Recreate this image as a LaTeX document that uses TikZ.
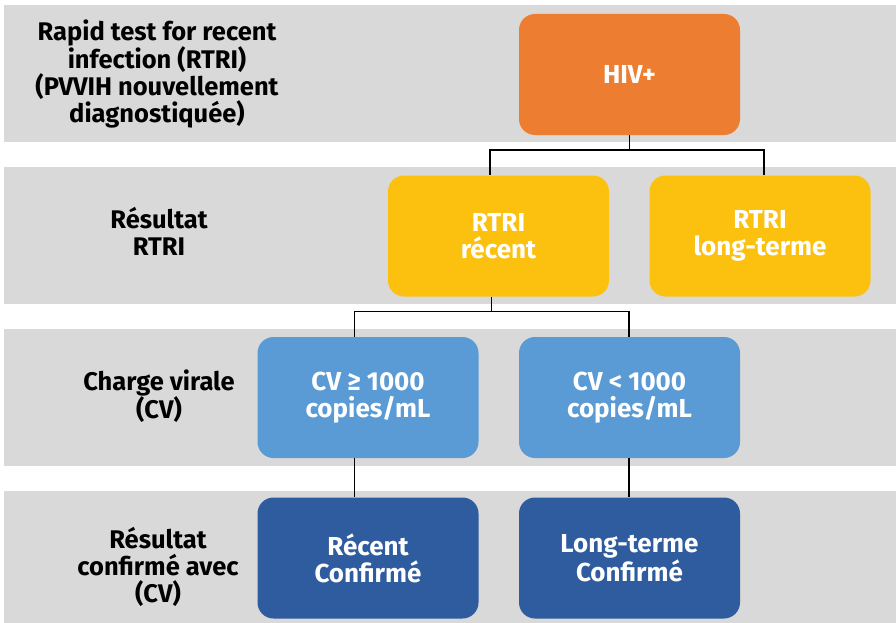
\documentclass[tikz,border=0pt]{standalone}
\usepackage{fontspec}
\setmainfont{Fira Sans}
\definecolor{bandgray}{HTML}{D9D9D9}
\definecolor{hivorange}{HTML}{ED7D31}
\definecolor{rtriyellow}{HTML}{FCC10F}
\definecolor{cvblue}{HTML}{5B9BD5}
\definecolor{confblue}{HTML}{2F5C9E}
\begin{document}
\begin{tikzpicture}[x=1pt, y=-1pt,
  box/.style={rounded corners=16pt, minimum width=221pt, minimum height=121pt,
    align=center, text=white, font=\fontsize{26}{27}\selectfont\bfseries},
  rowlabel/.style={align=center, font=\fontsize{25.5}{27}\selectfont\bfseries},
  link/.style={line width=1.2pt, black}]
\useasboundingbox (0,0) rectangle (896,623);
% grey bands
\fill[bandgray] (4,5) rectangle (896,141.5);
\fill[bandgray] (4,167) rectangle (896,303.5);
\fill[bandgray] (4,329) rectangle (896,466);
\fill[bandgray] (4,491) rectangle (896,623);
% row labels
\node[rowlabel] (lab0) at (157,74){Rapid test for recent\\infection (RTRI)\\(PVVIH nouvellement\\diagnostiquée)};
\node[rowlabel] (lab1) at (159,231){Résultat\\RTRI};
\node[rowlabel] (lab2) at (159,396){Charge virale\\(CV)};
\node[rowlabel] (lab3) at (158,567){Résultat\\confirmé avec\\(CV)};
% boxes
\node[box, fill=hivorange] (hiv) at (629.5,74.5){HIV+};
\node[box, fill=rtriyellow] (rtrirec) at (498.5,236){RTRI\\récent};
\node[box, fill=rtriyellow] (rtrilong) at (760,236){RTRI\\long-terme};
\node[box, fill=cvblue] (cvhigh) at (368,397.5){CV ≥ 1000\\copies/mL};
\node[box, fill=cvblue] (cvlow) at (629.5,397.5){CV < 1000\\copies/mL};
\node[box, fill=confblue] (confrec) at (368,558){Récent\\Confirmé};
\node[box, fill=confblue] (conflong) at (629.5,558){Long-terme\\Confirmé};
% connectors
\coordinate (split0) at (629.5,150);
\coordinate (split1) at (491.5,311.5);
\draw[link] (hiv) -- (split0);
\draw[link] (split0) -| ([xshift=-8.5pt]rtrirec.north);
\draw[link] (split0) -| ([xshift=4pt]rtrilong.north);
\draw[link] ([xshift=-7pt]rtrirec.south) -- (split1);
\draw[link] (split1) -| ([xshift=-13.5pt]cvhigh.north);
\draw[link] (split1) -| ([xshift=-0.5pt]cvlow.north);
\draw[link] ([xshift=-13.5pt]cvhigh.south) -- ([xshift=-13.5pt]confrec.north);
\draw[link] ([xshift=-0.5pt]cvlow.south) -- ([xshift=-0.5pt]conflong.north);
\end{tikzpicture}
\end{document}
